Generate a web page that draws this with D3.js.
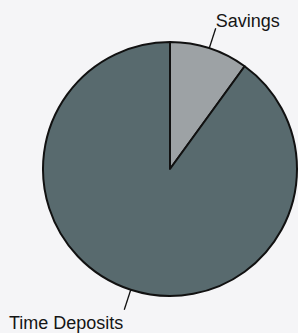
<!DOCTYPE html>
<html>
<head>
<meta charset="utf-8">
<script src="https://cdn.jsdelivr.net/npm/d3@7"></script>
<style>
  body { margin: 0; background: #f5f5f7; }
  svg { display: block; }
</style>
</head>
<body>
<svg id="chart"></svg>
<script>
const categories = ["Savings", "Time Deposits"];
const values = [10, 90];
const colors = ["#9da2a5", "#586a6e"];

var width = 298,
    height = 333,
    cx = 170,
    cy = 169,
    radius = 127;

const svg = d3.select("#chart").attr("width", width).attr("height", height);
const g = svg.append("g").attr("transform", "translate(" + [cx, cy] + ")");

const data = categories.map((c, i) => ({ label: c, value: values[i], color: colors[i] }));

const pie = d3.pie().sort(null).value(d => d.value);
const arc = d3.arc().innerRadius(0).outerRadius(radius);
const arcs = pie(data);

g.selectAll("path")
    .data(arcs)
    .enter()
    .append("path")
    .attr("d", arc)
    .style("fill", d => d.data.color)
    .style("stroke", "#111")
    .style("stroke-width", 2)
    .style("stroke-linejoin", "round");

// leader lines + labels
function pt(a, r) {
    return [r * Math.sin(a), -r * Math.cos(a)];
}

arcs.forEach(function(d) {
    const mid = (d.startAngle + d.endAngle) / 2;
    const p0 = pt(mid, radius);
    const p1 = pt(mid, radius + 21);
    g.append("line")
        .attr("x1", p0[0]).attr("y1", p0[1])
        .attr("x2", p1[0]).attr("y2", p1[1])
        .style("stroke", "#111")
        .style("stroke-width", 1.3);
    const top = p1[1] < 0;
    g.append("text")
        .attr("x", top ? p1[0] : p1[0] - 1)
        .attr("y", top ? p1[1] - 1 : p1[1] + 19)
        .attr("text-anchor", top ? "start" : "end")
        .style("font-family", "'Liberation Sans', Arial, sans-serif")
        .style("font-size", "18px")
        .style("fill", "#151515")
        .text(d.data.label);
});
</script>
</body>
</html>
